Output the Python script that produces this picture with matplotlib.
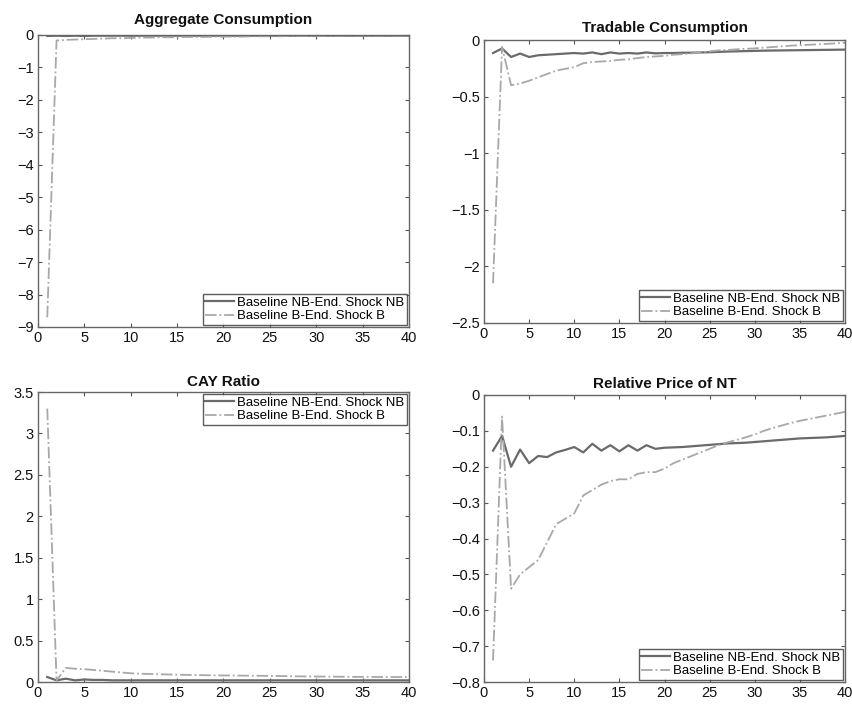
import matplotlib
matplotlib.use("Agg")
import matplotlib.pyplot as plt
from matplotlib.ticker import FuncFormatter
import numpy as np

plt.rcParams['font.family'] = ['Liberation Sans', 'DejaVu Sans']

periods = list(range(1, 41))

# Aggregate Consumption
agg_nb = [-0.03, -0.02, -0.03, -0.02, -0.03, -0.02, -0.02, -0.02, -0.02, -0.02,
          -0.02, -0.02, -0.02, -0.02, -0.02, -0.02, -0.02, -0.02, -0.02, -0.02,
          -0.02, -0.02, -0.02, -0.02, -0.02, -0.02, -0.02, -0.02, -0.02, -0.02,
          -0.02, -0.02, -0.02, -0.02, -0.02, -0.02, -0.02, -0.02, -0.02, -0.02]
agg_b = [-8.7, -0.17, -0.15, -0.14, -0.13, -0.12, -0.11, -0.10, -0.10, -0.09,
         -0.08, -0.08, -0.07, -0.07, -0.07, -0.06, -0.06, -0.06, -0.05, -0.05,
         -0.05, -0.05, -0.04, -0.04, -0.04, -0.04, -0.03, -0.03, -0.03, -0.03,
         -0.03, -0.03, -0.02, -0.02, -0.02, -0.02, -0.02, -0.02, -0.02, -0.02]

# Tradable Consumption
trad_nb = [-0.115, -0.075, -0.15, -0.12, -0.15, -0.135, -0.13, -0.125, -0.12, -0.115,
           -0.12, -0.11, -0.125, -0.11, -0.12, -0.115, -0.12, -0.11, -0.118, -0.115,
           -0.115, -0.113, -0.112, -0.11, -0.108, -0.105, -0.102, -0.1, -0.098, -0.096,
           -0.094, -0.093, -0.092, -0.091, -0.09, -0.089, -0.088, -0.087, -0.086, -0.085]
trad_b = [-2.15, -0.06, -0.40, -0.385, -0.36, -0.33, -0.30, -0.27, -0.255, -0.24,
          -0.205, -0.195, -0.19, -0.185, -0.175, -0.17, -0.16, -0.15, -0.145, -0.14,
          -0.13, -0.125, -0.118, -0.11, -0.1, -0.092, -0.088, -0.082, -0.078, -0.074,
          -0.068, -0.062, -0.056, -0.05, -0.046, -0.042, -0.038, -0.034, -0.03, -0.025]

# CAY Ratio
cay_nb = [0.06, 0.02, 0.04, 0.02, 0.03, 0.025, 0.025, 0.02, 0.02, 0.02,
          0.02, 0.02, 0.02, 0.02, 0.02, 0.02, 0.02, 0.02, 0.02, 0.02,
          0.02, 0.02, 0.02, 0.02, 0.02, 0.02, 0.02, 0.02, 0.02, 0.02,
          0.02, 0.02, 0.02, 0.02, 0.02, 0.02, 0.02, 0.02, 0.02, 0.02]
cay_b = [3.3, 0.02, 0.17, 0.16, 0.155, 0.145, 0.135, 0.125, 0.115, 0.105,
         0.1, 0.097, 0.094, 0.091, 0.088, 0.086, 0.084, 0.082, 0.08, 0.079,
         0.078, 0.077, 0.076, 0.075, 0.074, 0.072, 0.07, 0.068, 0.067, 0.066,
         0.065, 0.064, 0.063, 0.062, 0.062, 0.061, 0.06, 0.06, 0.06, 0.06]

# Relative Price of NT
price_nb = [-0.155, -0.114, -0.2, -0.152, -0.19, -0.17, -0.173, -0.16, -0.153, -0.145,
            -0.16, -0.136, -0.155, -0.14, -0.157, -0.14, -0.155, -0.14, -0.15, -0.147,
            -0.146, -0.145, -0.143, -0.141, -0.139, -0.137, -0.135, -0.134, -0.133, -0.131,
            -0.129, -0.127, -0.125, -0.123, -0.121, -0.12, -0.119, -0.118, -0.116, -0.114]
price_b = [-0.74, -0.06, -0.54, -0.50, -0.48, -0.46, -0.41, -0.36, -0.345, -0.33,
           -0.28, -0.265, -0.25, -0.24, -0.235, -0.235, -0.22, -0.215, -0.215, -0.205,
           -0.19, -0.18, -0.17, -0.16, -0.15, -0.14, -0.132, -0.125, -0.118, -0.11,
           -0.1, -0.092, -0.085, -0.078, -0.072, -0.067, -0.062, -0.057, -0.052, -0.047]

label_nb = "Baseline NB-End. Shock NB"
label_b = "Baseline B-End. Shock B"


def fmt(v, pos):
    s = f"{v:g}"
    if s in ("-0", "0"):
        return "0"
    return s.replace("-", "\u2212")


W, H = 853, 704
panels = [
    ("Aggregate Consumption", agg_nb, agg_b, (-9, 0), np.arange(-9, 0.1, 1), "lower right",
     [38/W, 1 - 327/H, 371/W, 292/H], 8),
    ("Tradable Consumption", trad_nb, trad_b, (-2.5, 0), np.arange(-2.5, 0.01, 0.5), "lower right",
     [484/W, 1 - 323/H, 361/W, 283/H], 6),
    ("CAY Ratio", cay_nb, cay_b, (0, 3.5), np.arange(0, 3.51, 0.5), "upper right",
     [38/W, 1 - 682/H, 371/W, 290/H], 4),
    ("Relative Price of NT", price_nb, price_b, (-0.8, 0), np.arange(-0.8, 0.001, 0.1), "lower right",
     [484/W, 1 - 682/H, 361/W, 287/H], 5),
]

fig = plt.figure(figsize=(W / 100, H / 100), dpi=100)

for title, nb, b, ylim, yticks, loc, rect, tpad in panels:
    ax = fig.add_axes(rect)
    ax.plot(periods, nb, color="#6a6a6a", linewidth=1.6, linestyle="-", label=label_nb)
    ax.plot(periods, b, color="#a8a8a8", linewidth=1.3, linestyle="-.", label=label_b)
    ax.set_xlim(0, 40)
    ax.set_ylim(*ylim)
    ax.set_xticks(range(0, 41, 5))
    ax.set_yticks(np.round(yticks, 2))
    ax.yaxis.set_major_formatter(FuncFormatter(fmt))
    ax.tick_params(direction="in", top=True, right=True, length=3, width=0.8,
                   colors="#555555", labelcolor="#111111", labelsize=10.5, pad=3)
    for sp in ax.spines.values():
        sp.set_color("#666666")
        sp.set_linewidth(1.0)
    ax.set_title(title, fontsize=11, fontweight="bold", pad=tpad, color="#111111")
    leg = ax.legend(loc=loc, fontsize=9.5, frameon=True, fancybox=False,
                    borderpad=0.2, labelspacing=0.1, handlelength=2.2,
                    handletextpad=0.2, borderaxespad=0.15)
    leg.get_frame().set_edgecolor("#333333")
    leg.get_frame().set_linewidth(1.0)

fig.savefig("out.png", dpi=100)
